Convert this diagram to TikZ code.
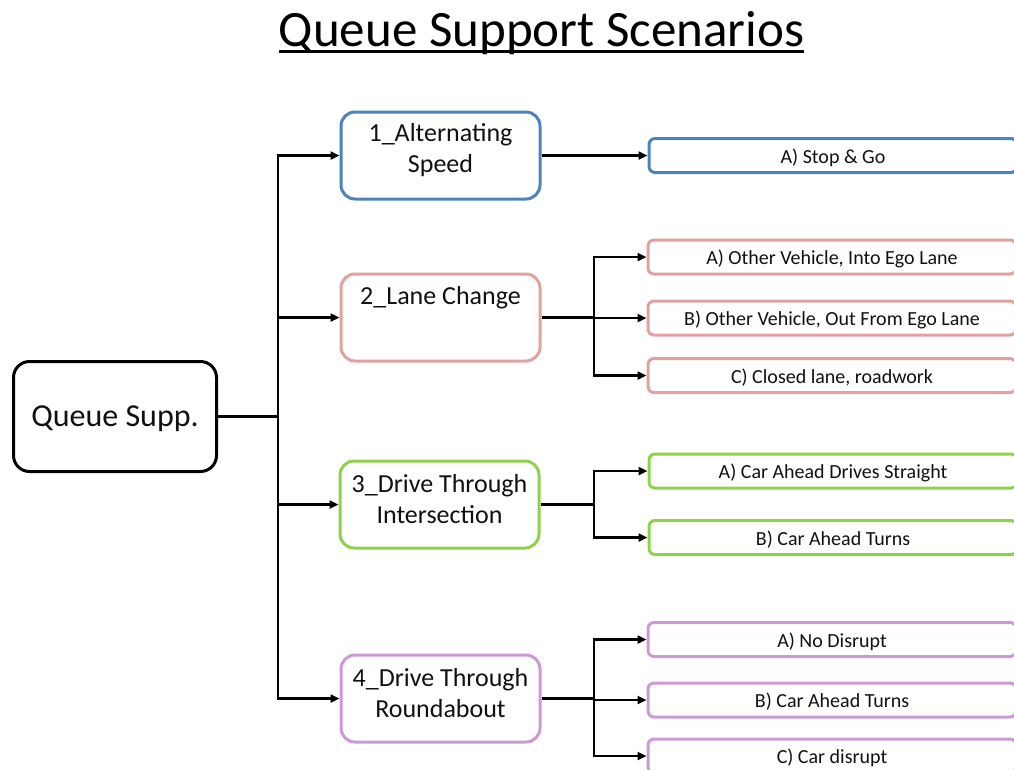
\documentclass[tikz,border=0pt]{standalone}
\usepackage{fontspec}
\setmainfont{Carlito}
\usetikzlibrary{arrows.meta,calc}

\definecolor{cblue}{HTML}{4F81BD}
\definecolor{cred}{HTML}{E3A0A0}
\definecolor{cgreen}{HTML}{8ED14B}
\definecolor{cpurple}{HTML}{CC99D6}
\definecolor{ink}{HTML}{111111}

\tikzset{
  rootbox/.style={draw=black, line width=3pt, rounded corners=16pt, fill=white,
    minimum width=203pt, minimum height=110pt, inner sep=0pt, text=ink,
    text height=24pt, text depth=4pt,
    font=\fontsize{32}{38}\selectfont},
  catbox/.style={draw=#1, line width=3pt, rounded corners=14pt, fill=white,
    minimum width=199pt, minimum height=87pt, inner sep=0pt},
  cattext/.style={inner sep=0pt, align=center, text=ink,
    font=\fontsize{26}{31}\selectfont},
  leafbox/.style={draw=#1, line width=3pt, rounded corners=6pt, fill=white,
    minimum width=368pt, minimum height=34pt, inner sep=0pt, text=ink,
    text height=18pt, text depth=3pt,
    font=\fontsize{20}{24}\selectfont},
  link/.style={draw=black, line width=2.8pt},
  arr/.style={link, -{Triangle[length=9pt,width=8pt]}},
}

\begin{document}
\begin{tikzpicture}[x=1pt,y=-1pt]
\useasboundingbox (0,0) rectangle (1014,769);
\clip (0,0) rectangle (1014,769);

% title with a heavy underline
\node[font=\fontsize{51}{60}\selectfont, text=black, inner sep=0pt, anchor=base] (title) at (541.5,46)
  {Queue Support Scenarios};
\draw[line width=3pt] ([yshift=-5.5pt]title.base west) -- ([yshift=-5.5pt]title.base east);

% root
\node[rootbox] (root) at (115,416.5) {Queue Supp.};

% categories: frame first, caption set slightly above centre
\node[catbox=cblue]   (n1) at (440.5,155.5) {};
\node[catbox=cred]    (n2) at (440.5,317.5) {};
\node[catbox=cgreen]  (n3) at (439.5,504.5) {};
\node[catbox=cpurple] (n4) at (440.5,698.5) {};
\node[cattext] (t1) at ([yshift=5.5pt]n1.center) {1\_Alternating\\Speed};
\node[cattext] (t2) at ([yshift=20pt]n2.center) {2\_Lane Change};
\node[cattext] (t3) at ([yshift=5pt]n3.center) {3\_Drive Through\\Intersection};
\node[cattext] (t4) at ([yshift=5.5pt]n4.center) {4\_Drive Through\\Roundabout};

% scenario boxes (running past the right edge)
\node[leafbox=cblue]   (l1a) at (833,155.5) {A) Stop \& Go};
\node[leafbox=cred]    (l2a) at (832,257)   {A) Other Vehicle, Into Ego Lane};
\node[leafbox=cred]    (l2b) at (832,318)   {B) Other Vehicle, Out From Ego Lane};
\node[leafbox=cred]    (l2c) at (832,375.5) {C) Closed lane, roadwork};
\node[leafbox=cgreen]  (l3a) at (833,471)   {A) Car Ahead Drives Straight};
\node[leafbox=cgreen]  (l3b) at (833,537.5) {B) Car Ahead Turns};
\node[leafbox=cpurple] (l4a) at (832,639.5) {A) No Disrupt};
\node[leafbox=cpurple] (l4b) at (832,700)   {B) Car Ahead Turns};
\node[leafbox=cpurple] (l4c) at (832,756)   {C) Car disrupt};

% trunk from the root
\coordinate (tk) at (278,416.5);
\draw[link] (root.east) -- (tk);
\draw[arr] (tk) |- (n1.west);
\draw[arr] (tk) |- (n2.west);
\draw[arr] (tk) |- (n3.west);
\draw[arr] (tk) |- (n4.west);

% category 1
\draw[arr] (n1.east) -- (l1a.west);

% category 2
\coordinate (f2) at (594,317.5);
\draw[link] (n2.east) -- (f2);
\draw[arr] (f2) |- (l2a.west);
\draw[arr] (f2) |- (l2b.west);
\draw[arr] (f2) |- (l2c.west);

% category 3
\coordinate (f3) at (594,504.5);
\draw[link] (n3.east) -- (f3);
\draw[arr] (f3) |- (l3a.west);
\draw[arr] (f3) |- (l3b.west);

% category 4
\coordinate (f4) at (594,698.5);
\draw[link] (n4.east) -- (f4);
\draw[arr] (f4) |- (l4a.west);
\draw[arr] (f4) |- (l4b.west);
\draw[arr] (f4) |- (l4c.west);
\end{tikzpicture}
\end{document}
